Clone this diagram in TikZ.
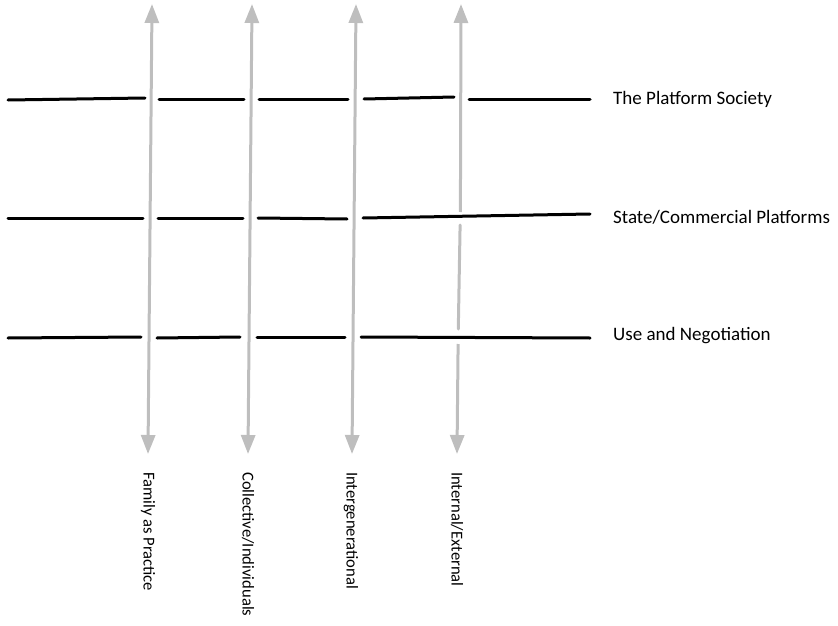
\documentclass[tikz,border=0pt]{standalone}
\usepackage{fontspec}
\setmainfont{Carlito}
\usetikzlibrary{arrows.meta}
\begin{document}
\begin{tikzpicture}[x=1pt,y=-1pt,
  hline/.style={line width=3pt,line cap=round,black},
  vaxis/.style={line width=3pt,draw={rgb,255:red,190;green,190;blue,190}},
  vtip/.style={-{Triangle[width=14pt,length=19pt]}},
  rowlabel/.style={anchor=west,inner sep=0pt,font=\fontsize{19}{23}\selectfont},
  collabel/.style={anchor=west,rotate=-90,inner sep=0pt,font=\fontsize{16.6}{19}\selectfont}]
\useasboundingbox (0,0) rectangle (838,626);
% vertical axes
\coordinate (a1t) at (152,4); \coordinate (a1b) at (148,454);
\coordinate (a2t) at (252,4); \coordinate (a2b) at (248,454);
\coordinate (a3t) at (356,4); \coordinate (a3b) at (352,454);
\coordinate (a4t) at (461,4); \coordinate (a4b) at (457,454);
\coordinate (a4s1) at (460.4,212); \coordinate (a4s2) at (460.1,225);
\coordinate (a4s3) at (458.3,329); \coordinate (a4s4) at (458.1,344);
\coordinate (a1m) at (150,229); \coordinate (a2m) at (250,229); \coordinate (a3m) at (354,229);
\draw[vaxis,vtip] (a1m) -- (a1t); \draw[vaxis,vtip] (a1m) -- (a1b);
\draw[vaxis,vtip] (a2m) -- (a2t); \draw[vaxis,vtip] (a2m) -- (a2b);
\draw[vaxis,vtip] (a3m) -- (a3t); \draw[vaxis,vtip] (a3m) -- (a3b);
\draw[vaxis,vtip] (a4s1) -- (a4t);
\draw[vaxis,line cap=round] (a4s2) -- (a4s3);
\draw[vaxis,vtip] (a4s4) -- (a4b);
% row 1
\coordinate (r1a) at (8,100); \coordinate (r1b) at (145,98);
\coordinate (r1c) at (159,99); \coordinate (r1d) at (244,99);
\coordinate (r1e) at (259,99); \coordinate (r1f) at (348,99);
\coordinate (r1g) at (364,99); \coordinate (r1h) at (454,97);
\coordinate (r1i) at (469,99); \coordinate (r1j) at (590,99);
\draw[hline] (r1a) -- (r1b); \draw[hline] (r1c) -- (r1d);
\draw[hline] (r1e) -- (r1f); \draw[hline] (r1g) -- (r1h);
\draw[hline] (r1i) -- (r1j);
% row 2
\coordinate (r2a) at (8,218); \coordinate (r2b) at (143,218);
\coordinate (r2c) at (158,218); \coordinate (r2d) at (243,218);
\coordinate (r2e) at (258,218); \coordinate (r2f) at (347,219);
\coordinate (r2g) at (363,218); \coordinate (r2h) at (590,214);
\draw[hline] (r2a) -- (r2b); \draw[hline] (r2c) -- (r2d);
\draw[hline] (r2e) -- (r2f); \draw[hline] (r2g) -- (r2h);
% row 3
\coordinate (r3a) at (8,338); \coordinate (r3b) at (141,337);
\coordinate (r3c) at (157,338); \coordinate (r3d) at (240,337);
\coordinate (r3e) at (257,337); \coordinate (r3f) at (345,337);
\coordinate (r3g) at (361,337); \coordinate (r3h) at (590,338);
\draw[hline] (r3a) -- (r3b); \draw[hline] (r3c) -- (r3d);
\draw[hline] (r3e) -- (r3f); \draw[hline] (r3g) -- (r3h);
% labels
\node[rowlabel] (l1) at (613,99) {The Platform Society};
\node[rowlabel] (l2) at (613,217) {State/Commercial Platforms};
\node[rowlabel] (l3) at (613,336) {Use and Negotiation};
\node[collabel] (c1) at (148,472) {Family as Practice};
\node[collabel] (c2) at (248,472) {Collective/Individuals};
\node[collabel] (c3) at (351,472) {Intergenerational};
\node[collabel] (c4) at (457,472) {Internal/External};
\end{tikzpicture}
\end{document}
